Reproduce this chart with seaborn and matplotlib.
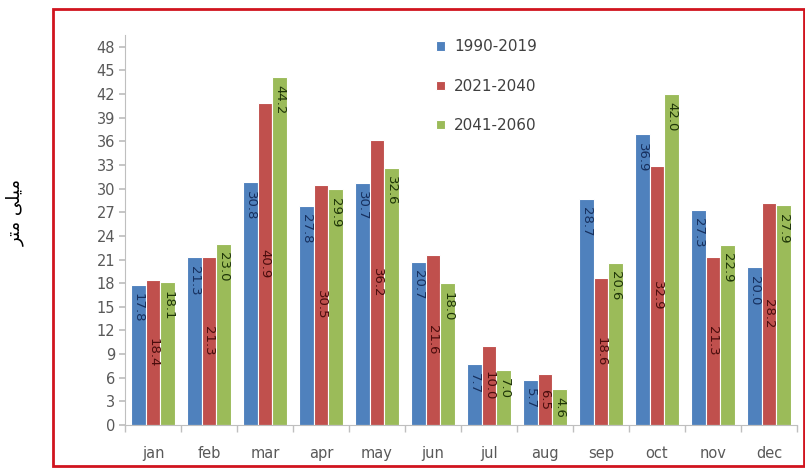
import matplotlib
matplotlib.use("Agg")
import matplotlib.pyplot as plt
import seaborn as sns
import pandas as pd
from matplotlib.patches import Rectangle

months = ["jan", "feb", "mar", "apr", "may", "jun", "jul", "aug", "sep", "oct", "nov", "dec"]
periods = ["1990-2019", "2021-2040", "2041-2060"]
p1990_2019 = [17.8, 21.3, 30.8, 27.8, 30.7, 20.7, 7.7, 5.7, 28.7, 36.9, 27.3, 20.0]
p2021_2040 = [18.4, 21.3, 40.9, 30.5, 36.2, 21.6, 10.0, 6.5, 18.6, 32.9, 21.3, 28.2]
p2041_2060 = [18.1, 23.0, 44.2, 29.9, 32.6, 18.0, 7.0, 4.6, 20.6, 42.0, 22.9, 27.9]
y_ticks = list(range(0, 49, 3))
# "میلی متر" in presentation forms, visual order
ylabel = "\uFEAE\uFE98\uFEE3 \uFEF0\uFEE0\uFEF4\uFEE3"

colors = ["#4F81BD", "#C0504D", "#9BBB59"]
label_colors = ["#17305e", "#4a0d0d", "#1e3508"]

rows = []
for per, vals in zip(periods, [p1990_2019, p2021_2040, p2041_2060]):
    for m, v in zip(months, vals):
        rows.append({"month": m, "value": v, "period": per})
df = pd.DataFrame(rows)

sns.set_theme(style="white")
plt.rcParams["font.family"] = ["DejaVu Sans"]

fig = plt.figure(figsize=(8.05, 4.68), dpi=100)
ax = fig.add_axes([125 / 805, 1 - 425 / 468, (797 - 125) / 805, (425 - 35) / 468])

sns.barplot(data=df, x="month", y="value", hue="period", order=months, hue_order=periods,
            palette=colors, width=0.8, saturation=1, edgecolor="white", linewidth=0.8, ax=ax)

for i, cont in enumerate(ax.containers):
    for patch in cont:
        h = patch.get_height()
        xc = patch.get_x() + patch.get_width() / 2
        if i == 1:
            ax.annotate(f"{h:.1f}", xy=(xc, h / 2), ha="center", va="center", rotation=270,
                        fontsize=9.5, color=label_colors[i])
        else:
            ax.annotate(f"{h:.1f}", xy=(xc, h), xytext=(0, -6), textcoords="offset points",
                        ha="center", va="top", rotation=270, fontsize=9.5, color=label_colors[i])

ax.set_ylim(0, 49.5)
ax.set_xlim(-0.5, 11.5)
ax.set_yticks(y_ticks)
ax.set_xlabel("")
ax.set_ylabel("")
ax.tick_params(axis="y", which="major", left=True, length=4, color="#bfbfbf", labelsize=10.5,
               labelcolor="#595959", pad=3)
ax.tick_params(axis="x", which="major", bottom=False, labelsize=10.5, labelcolor="#595959", pad=9)
ax.set_xticks([x - 0.5 for x in range(13)], minor=True)
ax.tick_params(axis="x", which="minor", bottom=True, length=5, color="#bfbfbf")
for s in ["top", "right"]:
    ax.spines[s].set_visible(False)
for s in ["left", "bottom"]:
    ax.spines[s].set_color("#bfbfbf")
    ax.spines[s].set_linewidth(0.8)

leg = ax.legend(loc="upper left", bbox_to_anchor=(0.443, 1.024), frameon=False, fontsize=11,
                handlelength=0.55, handleheight=0.55, handletextpad=0.6, labelspacing=1.6)
for t in leg.get_texts():
    t.set_color("#404040")

fig.patches.append(Rectangle((53 / 805, 1 - 466 / 468), (804 - 53) / 805, (466 - 9) / 468,
                             transform=fig.transFigure, fill=False, edgecolor="#d0141e",
                             linewidth=2, zorder=10))

fig.text(15 / 805, 1 - 213 / 468, ylabel, rotation=90, ha="center", va="center",
         fontsize=13, color="black")

fig.savefig("out.png", dpi=100)
